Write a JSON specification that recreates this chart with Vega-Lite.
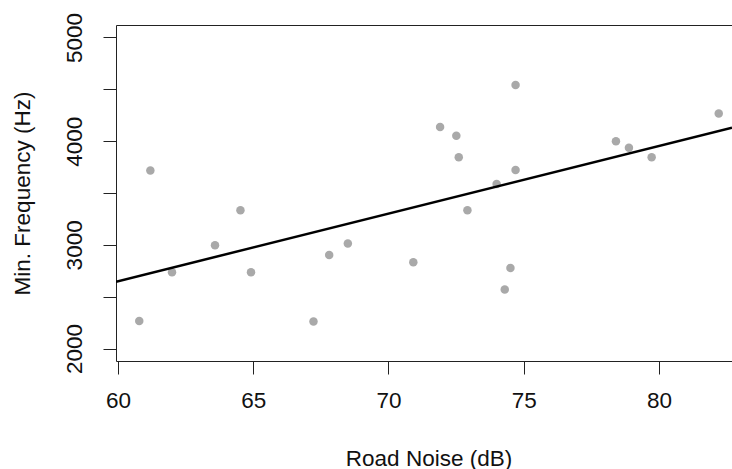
{
  "$schema": "https://vega.github.io/schema/vega-lite/v6.json",
  "width": 616,
  "height": 336,
  "autosize": {"type": "none"},
  "padding": {"left": 116, "top": 25, "right": 0, "bottom": 108},
  "background": "white",
  "config": {
    "view": {"stroke": null},
    "font": "Liberation Sans",
    "axis": {
      "grid": false,
      "domainColor": "#222",
      "domainWidth": 1,
      "tickColor": "#222",
      "tickWidth": 1,
      "tickSize": 13,
      "labelFont": "Liberation Sans",
      "labelFontSize": 22.5,
      "labelColor": "#111",
      "titleFont": "Liberation Sans",
      "titleFontSize": 22.5,
      "titleFontWeight": "normal",
      "titleColor": "#111",
      "labelOverlap": false,
      "labelFlush": false
    }
  },
  "data": {
    "values": [
      {"noise": 60.79, "minfreq": 2266},
      {"noise": 61.2, "minfreq": 3718},
      {"noise": 62.0, "minfreq": 2735},
      {"noise": 63.59, "minfreq": 2997},
      {"noise": 64.53, "minfreq": 3334},
      {"noise": 64.92, "minfreq": 2735},
      {"noise": 67.23, "minfreq": 2262},
      {"noise": 67.81, "minfreq": 2903},
      {"noise": 68.5, "minfreq": 3013},
      {"noise": 70.92, "minfreq": 2833},
      {"noise": 71.91, "minfreq": 4136},
      {"noise": 72.51, "minfreq": 4052},
      {"noise": 72.6, "minfreq": 3845},
      {"noise": 72.92, "minfreq": 3334},
      {"noise": 74.0, "minfreq": 3586},
      {"noise": 74.3, "minfreq": 2570},
      {"noise": 74.51, "minfreq": 2777},
      {"noise": 74.7, "minfreq": 4541},
      {"noise": 74.7, "minfreq": 3722},
      {"noise": 78.41, "minfreq": 4000},
      {"noise": 78.89, "minfreq": 3936},
      {"noise": 79.73, "minfreq": 3845},
      {"noise": 82.21, "minfreq": 4266}
    ]
  },
  "resolve": {"axis": {"x": "independent"}},
  "layer": [
    {
      "mark": {"type": "point", "filled": true, "shape": "circle", "size": 72, "color": "#a9a9a9", "opacity": 1, "strokeWidth": 0},
      "encoding": {
        "x": {
          "field": "noise", "type": "quantitative",
          "scale": {"domain": [59.93, 82.7], "nice": false, "zero": false},
          "axis": {
            "orient": "bottom",
            "values": [60, 65, 70, 75, 80],
            "title": "Road Noise (dB)",
            "labelPadding": 15,
            "labelBaseline": "top",
            "titleX": 312.5,
            "titleY": 104,
            "titleBaseline": "alphabetic",
            "titleAlign": "center"
          }
        },
        "y": {
          "field": "minfreq", "type": "quantitative",
          "scale": {"domain": [1880, 5120], "nice": false, "zero": false},
          "axis": {
            "orient": "left",
            "values": [2000, 2500, 3000, 3500, 4000, 4500, 5000],
            "format": "d",
            "labelExpr": "datum.value % 1000 === 0 ? datum.label : ''",
            "labelAngle": -90,
            "labelAlign": "center",
            "labelBaseline": "alphabetic",
            "labelPadding": 22,
            "title": "Min. Frequency (Hz)",
            "titleAngle": -90,
            "titleX": -87,
            "titleY": 168,
            "titleAlign": "center",
            "titleBaseline": "alphabetic"
          }
        }
      }
    },
    {
      "transform": [
        {"regression": "minfreq", "on": "noise", "extent": [59.93, 82.7]}
      ],
      "mark": {"type": "line", "color": "black", "strokeWidth": 2.5, "clip": true},
      "encoding": {
        "x": {
          "field": "noise", "type": "quantitative",
          "axis": {"orient": "top", "labels": false, "ticks": false, "title": null, "domain": true}
        },
        "y": {"field": "minfreq", "type": "quantitative"}
      }
    }
  ]
}
